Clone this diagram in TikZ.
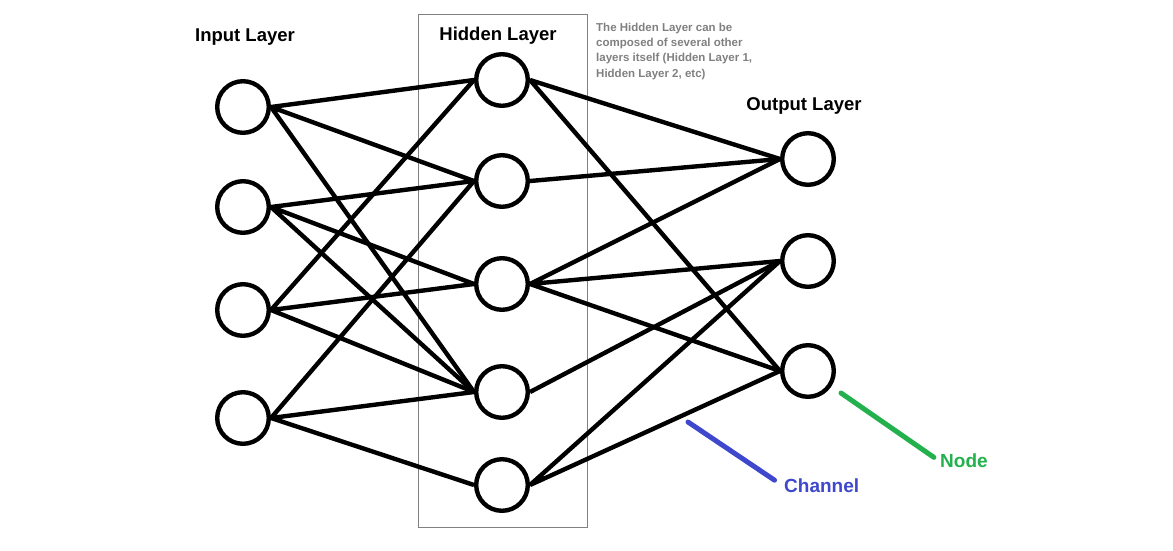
\documentclass[tikz,border=0pt]{standalone}
\usepackage{fontspec}
\setmainfont{Liberation Sans}
\definecolor{notegray}{RGB}{128,128,128}
\definecolor{chanblue}{RGB}{63,72,204}
\definecolor{nodegreen}{RGB}{34,177,76}

\begin{document}
\begin{tikzpicture}[x=1pt, y=-1pt, line width=4.4pt,
      every node/.append style={font=\bfseries}]
    \tikzstyle{neuron} = [draw,circle,minimum size=51.6pt,inner sep=0pt]
    \tikzstyle{title} = [anchor=base,inner sep=0pt,font=\fontsize{18.5}{22}\selectfont\bfseries]
    \tikzstyle{label} = [anchor=base west,inner sep=0pt,font=\fontsize{19}{22}\selectfont\bfseries]
    \useasboundingbox (0,0) rectangle (1173,550);
    \draw [line width=1pt,color=notegray] (418,14) rectangle (587,527);
    % layers
    \node (i1) [neuron] at (243,107) {};
    \node (i2) [neuron] at (243,207) {};
    \node (i3) [neuron] at (243,310) {};
    \node (i4) [neuron] at (243,418) {};
    \node (h1) [neuron] at (502,80) {};
    \node (h2) [neuron] at (502,181) {};
    \node (h3) [neuron] at (502,284) {};
    \node (h4) [neuron] at (502,392) {};
    \node (h5) [neuron] at (502,485) {};
    \node (o1) [neuron] at (808,159) {};
    \node (o2) [neuron] at (808,261) {};
    \node (o3) [neuron] at (808,371) {};
    \node (inTitle) [title] at (245,41) {Input Layer};
    \node (hidTitle) [title] at (498,40) {Hidden Layer};
    \node (outTitle) [title] at (804,110) {Output Layer};
    \node (note) [anchor=base west,inner sep=0pt,align=left,color=notegray,
      font=\fontsize{11.5}{15.3}\selectfont\bfseries] at (594,77)
      {The Hidden Layer can be\\composed of several other\\layers itself (Hidden Layer 1,\\Hidden Layer 2, etc)};
    % channels
    \draw (i1.east) -- (h1.west) (i1.east) -- (h2.west) (i1.east) -- (h4.west);
    \draw (i2.east) -- (h2.west) (i2.east) -- (h3.west) (i2.east) -- (h4.west);
    \draw (i3.east) -- (h1.west) (i3.east) -- (h3.west) (i3.east) -- (h4.west);
    \draw (i4.east) -- (h2.west) (i4.east) -- (h4.west) (i4.east) -- (h5.west);
    \draw (h1.east) -- (o1.west) (h1.east) -- (o3.west);
    \draw (h2.east) -- (o1.west);
    \draw (h3.east) -- (o1.west) (h3.east) -- (o2.west) (h3.east) -- (o3.west);
    \draw (h4.east) -- (o2.west);
    \draw (h5.east) -- (o2.west) (h5.east) -- (o3.west);
    % pointers
    \node (channel) [label,color=chanblue] at (782,492) {Channel};
    \node (nodeLabel) [label,color=nodegreen] at (938,467) {Node};
    \coordinate (chanTip) at (688,422);
    \coordinate (nodeTip) at (841,393);
    \draw [chanblue,line width=5pt,line cap=round,shorten >=9pt] (chanTip) -- (channel.west);
    \draw [nodegreen,line width=5pt,line cap=round,shorten >=5pt] (nodeTip) -- (nodeLabel.west);
\end{tikzpicture}
\end{document}
